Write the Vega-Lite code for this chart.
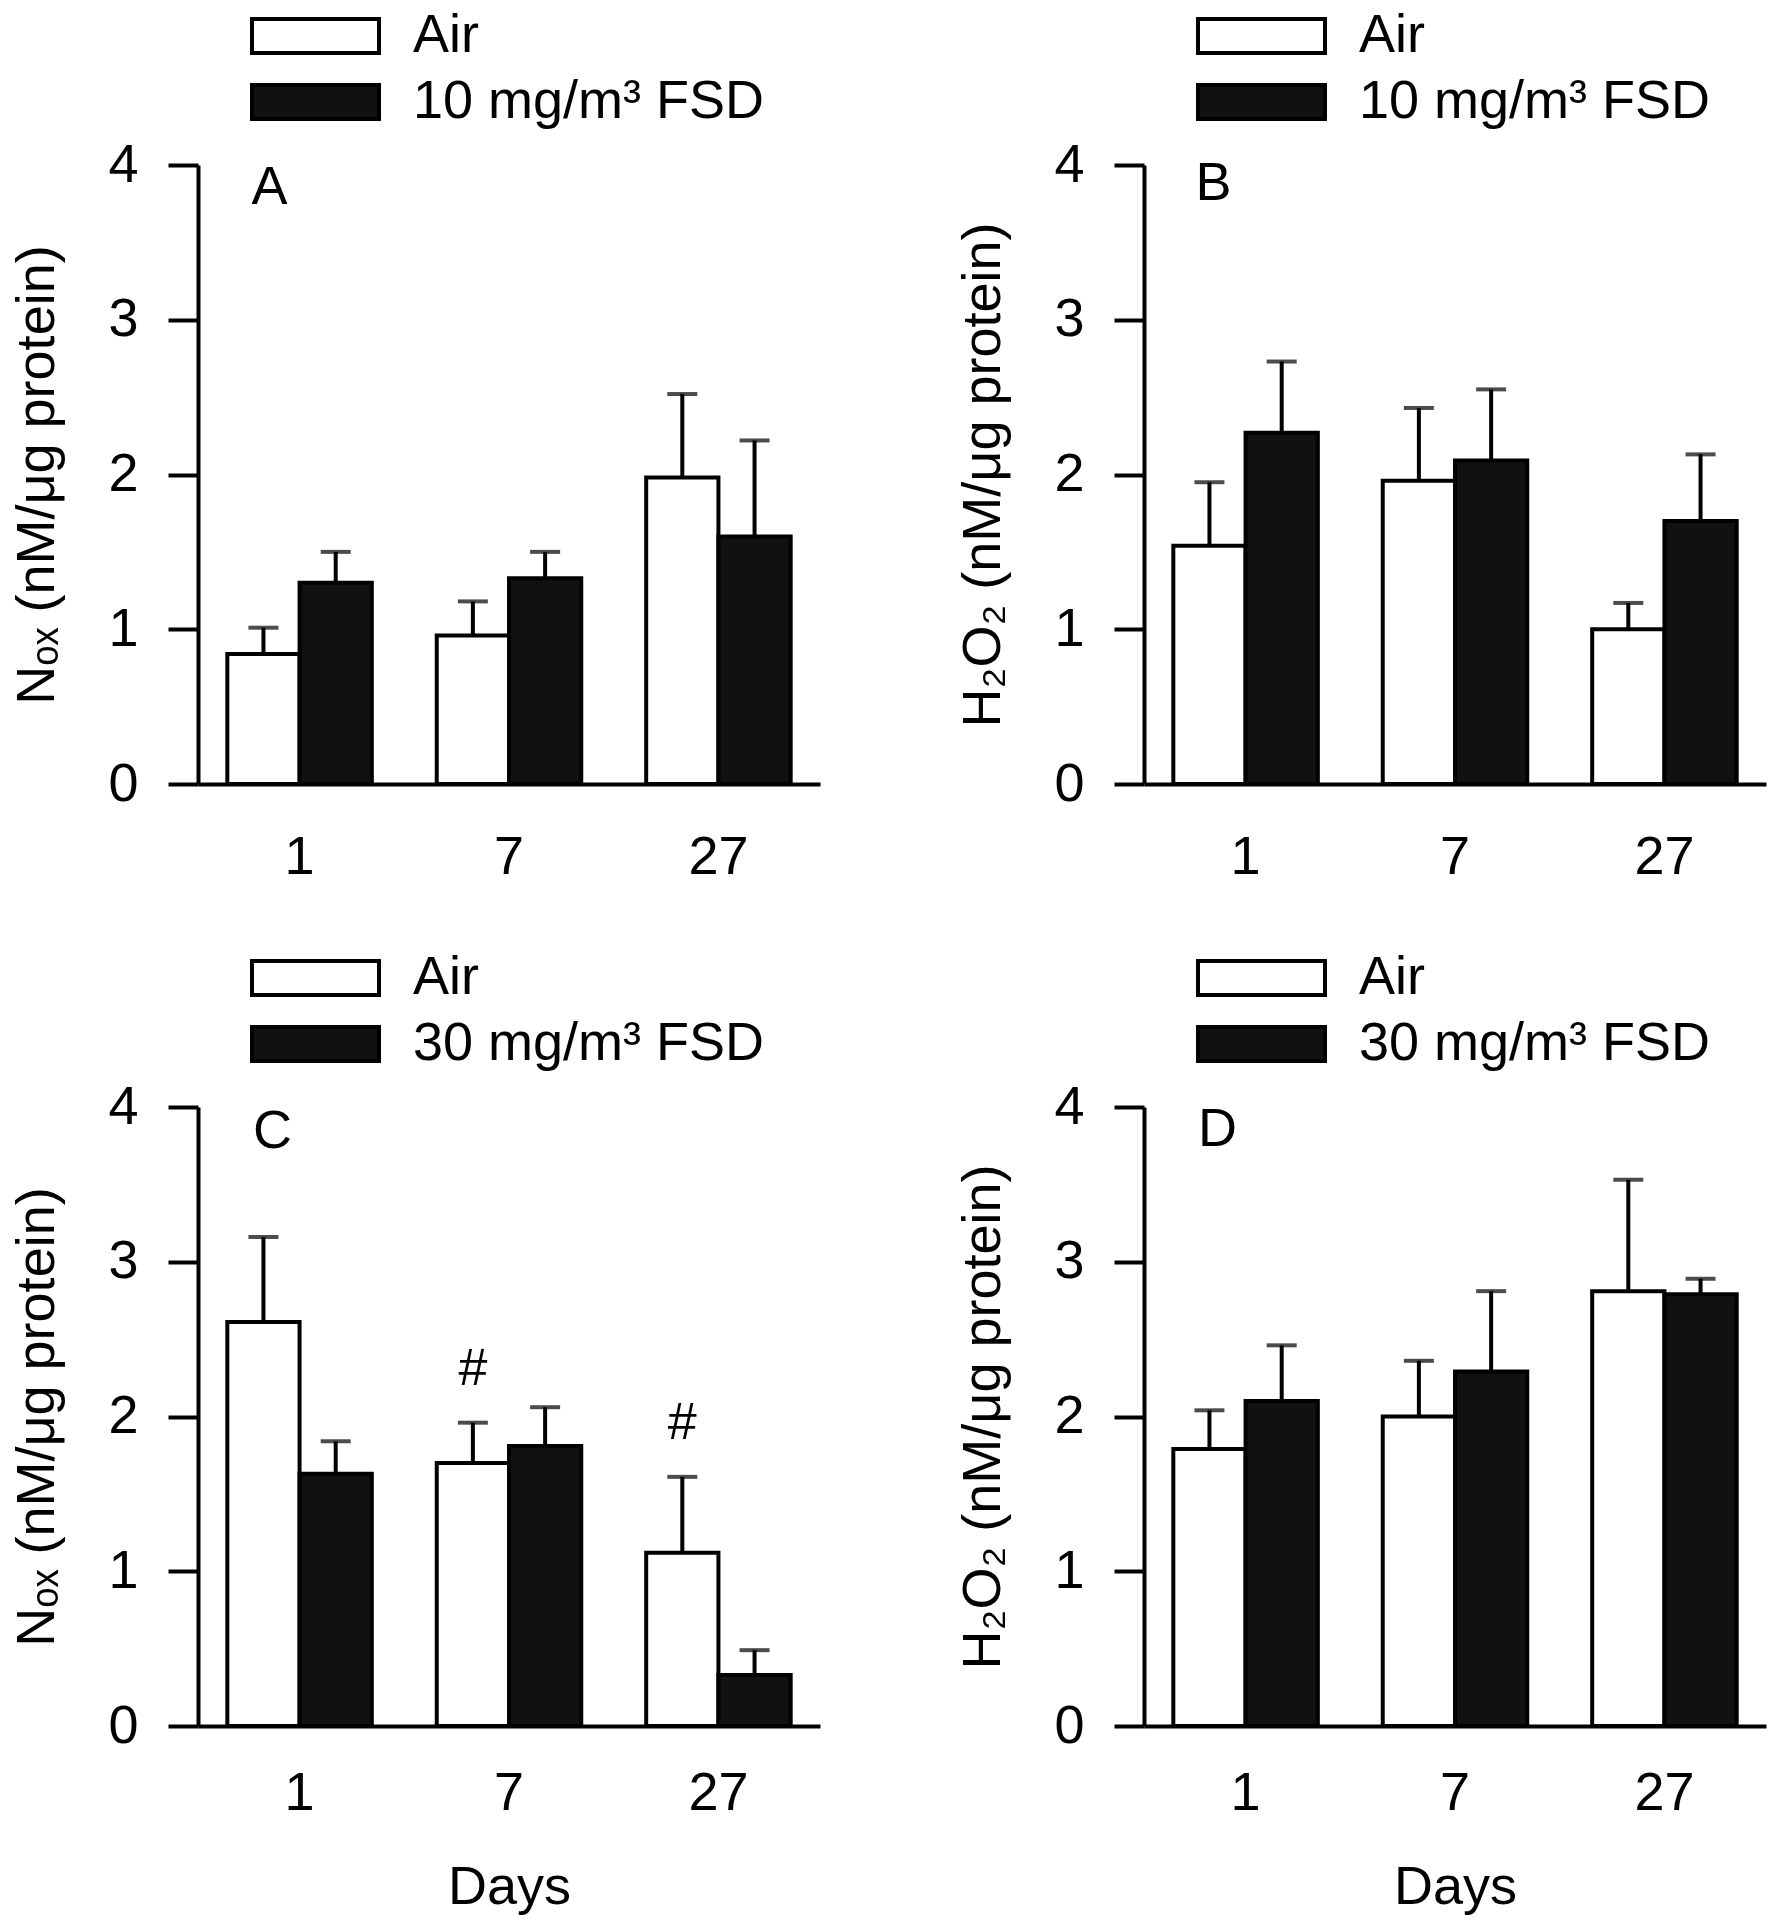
{
  "$schema": "https://vega.github.io/schema/vega-lite/v6.json",
  "padding": {"left": 10, "top": 9, "right": 2, "bottom": 2},
  "background": "white",
  "columns": 2,
  "align": "each",
  "spacing": {"row": 67, "column": 136},
  "datasets": {
    "dA": [
      {"day": "1", "group": "Air", "mean": 0.84, "upper": 1.01},
      {"day": "1", "group": "10 mg/m³ FSD", "mean": 1.30, "upper": 1.50},
      {"day": "7", "group": "Air", "mean": 0.96, "upper": 1.18},
      {"day": "7", "group": "10 mg/m³ FSD", "mean": 1.33, "upper": 1.50},
      {"day": "27", "group": "Air", "mean": 1.98, "upper": 2.52},
      {"day": "27", "group": "10 mg/m³ FSD", "mean": 1.60, "upper": 2.22}
    ],
    "dB": [
      {"day": "1", "group": "Air", "mean": 1.54, "upper": 1.95},
      {"day": "1", "group": "10 mg/m³ FSD", "mean": 2.27, "upper": 2.73},
      {"day": "7", "group": "Air", "mean": 1.96, "upper": 2.43},
      {"day": "7", "group": "10 mg/m³ FSD", "mean": 2.09, "upper": 2.55},
      {"day": "27", "group": "Air", "mean": 1.00, "upper": 1.17},
      {"day": "27", "group": "10 mg/m³ FSD", "mean": 1.70, "upper": 2.13}
    ],
    "dC": [
      {"day": "1", "group": "Air", "mean": 2.61, "upper": 3.16, "sig": ""},
      {"day": "1", "group": "30 mg/m³ FSD", "mean": 1.63, "upper": 1.84, "sig": ""},
      {"day": "7", "group": "Air", "mean": 1.70, "upper": 1.96, "sig": "#"},
      {"day": "7", "group": "30 mg/m³ FSD", "mean": 1.81, "upper": 2.06, "sig": ""},
      {"day": "27", "group": "Air", "mean": 1.12, "upper": 1.61, "sig": "#"},
      {"day": "27", "group": "30 mg/m³ FSD", "mean": 0.33, "upper": 0.49, "sig": ""}
    ],
    "dD": [
      {"day": "1", "group": "Air", "mean": 1.79, "upper": 2.04},
      {"day": "1", "group": "30 mg/m³ FSD", "mean": 2.10, "upper": 2.46},
      {"day": "7", "group": "Air", "mean": 2.00, "upper": 2.36},
      {"day": "7", "group": "30 mg/m³ FSD", "mean": 2.29, "upper": 2.81},
      {"day": "27", "group": "Air", "mean": 2.81, "upper": 3.53},
      {"day": "27", "group": "30 mg/m³ FSD", "mean": 2.79, "upper": 2.89}
    ]
  },
  "concat": [
    {
      "width": 622, "height": 619,
      "data": {"name": "dA"},
      "layer": [
        {
          "mark": {"type": "bar", "stroke": "black", "strokeWidth": 4, "strokeJoin": "miter"},
          "encoding": {
            "x": {"field": "day", "type": "nominal", "scale": {"domain": ["1", "7", "27"], "paddingInner": 0.31, "paddingOuter": 0.14}, "axis": {"ticks": false, "labelPadding": 46, "labelAngle": 0, "title": null}},
            "xOffset": {"field": "group", "type": "nominal", "scale": {"domain": ["Air", "10 mg/m³ FSD"], "paddingInner": 0, "paddingOuter": 0}},
            "y": {"field": "mean", "type": "quantitative", "scale": {"domain": [0, 4], "nice": false}, "axis": {"values": [0, 1, 2, 3, 4], "format": "d", "title": "Nₒₓ (nM/μg protein)"}},
            "fill": {"field": "group", "type": "nominal", "scale": {"domain": ["Air", "10 mg/m³ FSD"], "range": ["#ffffff", "#111111"]},
              "legend": {"orient": "none", "legendX": 52, "legendY": -156, "title": null, "symbolType": "M-1,-0.268H1V0.268H-1Z", "symbolSize": 16129, "symbolStrokeColor": "black", "symbolStrokeWidth": 4, "labelFontSize": 54, "labelOffset": 32, "rowPadding": 12, "clipHeight": 54, "padding": 0, "labelLimit": 700, "labelColor": "black"}}
          }
        },
        {
          "mark": {"type": "rule", "color": "black", "strokeWidth": 4},
          "encoding": {
            "x": {"field": "day", "type": "nominal"},
            "xOffset": {"field": "group", "type": "nominal"},
            "y": {"field": "mean", "type": "quantitative"},
            "y2": {"field": "upper"}
          }
        },
        {
          "mark": {"type": "tick", "color": "black", "thickness": 4, "size": 30},
          "encoding": {
            "x": {"field": "day", "type": "nominal"},
            "xOffset": {"field": "group", "type": "nominal"},
            "y": {"field": "upper", "type": "quantitative"}
          }
        },
        {
          "data": {"values": [{"label": "A"}]},
          "mark": {"type": "text", "fontSize": 54, "align": "center", "baseline": "middle", "dx": -30, "color": "black"},
          "encoding": {
            "x": {"datum": "1"},
            "y": {"datum": 3.85},
            "text": {"field": "label"}
          }
        }
      ]
    },
    {
      "width": 622, "height": 619,
      "data": {"name": "dB"},
      "layer": [
        {
          "mark": {"type": "bar", "stroke": "black", "strokeWidth": 4, "strokeJoin": "miter"},
          "encoding": {
            "x": {"field": "day", "type": "nominal", "scale": {"domain": ["1", "7", "27"], "paddingInner": 0.31, "paddingOuter": 0.14}, "axis": {"ticks": false, "labelPadding": 46, "labelAngle": 0, "title": null}},
            "xOffset": {"field": "group", "type": "nominal", "scale": {"domain": ["Air", "10 mg/m³ FSD"], "paddingInner": 0, "paddingOuter": 0}},
            "y": {"field": "mean", "type": "quantitative", "scale": {"domain": [0, 4], "nice": false}, "axis": {"values": [0, 1, 2, 3, 4], "format": "d", "title": "H₂O₂ (nM/μg protein)"}},
            "fill": {"field": "group", "type": "nominal", "scale": {"domain": ["Air", "10 mg/m³ FSD"], "range": ["#ffffff", "#111111"]},
              "legend": {"orient": "none", "legendX": 52, "legendY": -156, "title": null, "symbolType": "M-1,-0.268H1V0.268H-1Z", "symbolSize": 16129, "symbolStrokeColor": "black", "symbolStrokeWidth": 4, "labelFontSize": 54, "labelOffset": 32, "rowPadding": 12, "clipHeight": 54, "padding": 0, "labelLimit": 700, "labelColor": "black"}}
          }
        },
        {
          "mark": {"type": "rule", "color": "black", "strokeWidth": 4},
          "encoding": {
            "x": {"field": "day", "type": "nominal"},
            "xOffset": {"field": "group", "type": "nominal"},
            "y": {"field": "mean", "type": "quantitative"},
            "y2": {"field": "upper"}
          }
        },
        {
          "mark": {"type": "tick", "color": "black", "thickness": 4, "size": 30},
          "encoding": {
            "x": {"field": "day", "type": "nominal"},
            "xOffset": {"field": "group", "type": "nominal"},
            "y": {"field": "upper", "type": "quantitative"}
          }
        },
        {
          "data": {"values": [{"label": "B"}]},
          "mark": {"type": "text", "fontSize": 54, "align": "center", "baseline": "middle", "dx": -32, "color": "black"},
          "encoding": {
            "x": {"datum": "1"},
            "y": {"datum": 3.88},
            "text": {"field": "label"}
          }
        }
      ]
    },
    {
      "width": 622, "height": 619,
      "data": {"name": "dC"},
      "layer": [
        {
          "mark": {"type": "bar", "stroke": "black", "strokeWidth": 4, "strokeJoin": "miter"},
          "encoding": {
            "x": {"field": "day", "type": "nominal", "scale": {"domain": ["1", "7", "27"], "paddingInner": 0.31, "paddingOuter": 0.14}, "axis": {"ticks": false, "labelPadding": 40, "labelAngle": 0, "title": "Days", "titlePadding": 40}},
            "xOffset": {"field": "group", "type": "nominal", "scale": {"domain": ["Air", "30 mg/m³ FSD"], "paddingInner": 0, "paddingOuter": 0}},
            "y": {"field": "mean", "type": "quantitative", "scale": {"domain": [0, 4], "nice": false}, "axis": {"values": [0, 1, 2, 3, 4], "format": "d", "title": "Nₒₓ (nM/μg protein)"}},
            "fill": {"field": "group", "type": "nominal", "scale": {"domain": ["Air", "30 mg/m³ FSD"], "range": ["#ffffff", "#111111"]},
              "legend": {"orient": "none", "legendX": 52, "legendY": -156, "title": null, "symbolType": "M-1,-0.268H1V0.268H-1Z", "symbolSize": 16129, "symbolStrokeColor": "black", "symbolStrokeWidth": 4, "labelFontSize": 54, "labelOffset": 32, "rowPadding": 12, "clipHeight": 54, "padding": 0, "labelLimit": 700, "labelColor": "black"}}
          }
        },
        {
          "mark": {"type": "rule", "color": "black", "strokeWidth": 4},
          "encoding": {
            "x": {"field": "day", "type": "nominal"},
            "xOffset": {"field": "group", "type": "nominal"},
            "y": {"field": "mean", "type": "quantitative"},
            "y2": {"field": "upper"}
          }
        },
        {
          "mark": {"type": "tick", "color": "black", "thickness": 4, "size": 30},
          "encoding": {
            "x": {"field": "day", "type": "nominal"},
            "xOffset": {"field": "group", "type": "nominal"},
            "y": {"field": "upper", "type": "quantitative"}
          }
        },
        {
          "transform": [{"filter": "datum.sig == '#'"}],
          "mark": {"type": "text", "fontSize": 52, "align": "center", "baseline": "middle", "dy": -54, "color": "black"},
          "encoding": {
            "x": {"field": "day", "type": "nominal"},
            "xOffset": {"field": "group", "type": "nominal"},
            "y": {"field": "upper", "type": "quantitative"},
            "text": {"field": "sig"}
          }
        },
        {
          "data": {"values": [{"label": "C"}]},
          "mark": {"type": "text", "fontSize": 54, "align": "center", "baseline": "middle", "dx": -27, "color": "black"},
          "encoding": {
            "x": {"datum": "1"},
            "y": {"datum": 3.84},
            "text": {"field": "label"}
          }
        }
      ]
    },
    {
      "width": 622, "height": 619,
      "data": {"name": "dD"},
      "layer": [
        {
          "mark": {"type": "bar", "stroke": "black", "strokeWidth": 4, "strokeJoin": "miter"},
          "encoding": {
            "x": {"field": "day", "type": "nominal", "scale": {"domain": ["1", "7", "27"], "paddingInner": 0.31, "paddingOuter": 0.14}, "axis": {"ticks": false, "labelPadding": 40, "labelAngle": 0, "title": "Days", "titlePadding": 40}},
            "xOffset": {"field": "group", "type": "nominal", "scale": {"domain": ["Air", "30 mg/m³ FSD"], "paddingInner": 0, "paddingOuter": 0}},
            "y": {"field": "mean", "type": "quantitative", "scale": {"domain": [0, 4], "nice": false}, "axis": {"values": [0, 1, 2, 3, 4], "format": "d", "title": "H₂O₂ (nM/μg protein)"}},
            "fill": {"field": "group", "type": "nominal", "scale": {"domain": ["Air", "30 mg/m³ FSD"], "range": ["#ffffff", "#111111"]},
              "legend": {"orient": "none", "legendX": 52, "legendY": -156, "title": null, "symbolType": "M-1,-0.268H1V0.268H-1Z", "symbolSize": 16129, "symbolStrokeColor": "black", "symbolStrokeWidth": 4, "labelFontSize": 54, "labelOffset": 32, "rowPadding": 12, "clipHeight": 54, "padding": 0, "labelLimit": 700, "labelColor": "black"}}
          }
        },
        {
          "mark": {"type": "rule", "color": "black", "strokeWidth": 4},
          "encoding": {
            "x": {"field": "day", "type": "nominal"},
            "xOffset": {"field": "group", "type": "nominal"},
            "y": {"field": "mean", "type": "quantitative"},
            "y2": {"field": "upper"}
          }
        },
        {
          "mark": {"type": "tick", "color": "black", "thickness": 4, "size": 30},
          "encoding": {
            "x": {"field": "day", "type": "nominal"},
            "xOffset": {"field": "group", "type": "nominal"},
            "y": {"field": "upper", "type": "quantitative"}
          }
        },
        {
          "data": {"values": [{"label": "D"}]},
          "mark": {"type": "text", "fontSize": 54, "align": "center", "baseline": "middle", "dx": -28, "color": "black"},
          "encoding": {
            "x": {"datum": "1"},
            "y": {"datum": 3.85},
            "text": {"field": "label"}
          }
        }
      ]
    }
  ],
  "resolve": {
    "scale": {"fill": "independent", "x": "independent", "y": "independent", "xOffset": "independent"},
    "legend": {"fill": "independent"}
  },
  "config": {
    "font": "Liberation Sans",
    "view": {"stroke": null},
    "axis": {
      "grid": false,
      "domainColor": "black",
      "domainWidth": 4,
      "tickColor": "black",
      "tickWidth": 4,
      "tickSize": 30,
      "labelColor": "black",
      "labelFontSize": 54,
      "labelFont": "Liberation Sans",
      "titleColor": "black",
      "titleFontSize": 54,
      "titleFont": "Liberation Sans",
      "titleFontWeight": "normal",
      "labelPadding": 30
    },
    "axisY": {"titlePadding": 43},
    "legend": {"labelFont": "Liberation Sans"}
  }
}
